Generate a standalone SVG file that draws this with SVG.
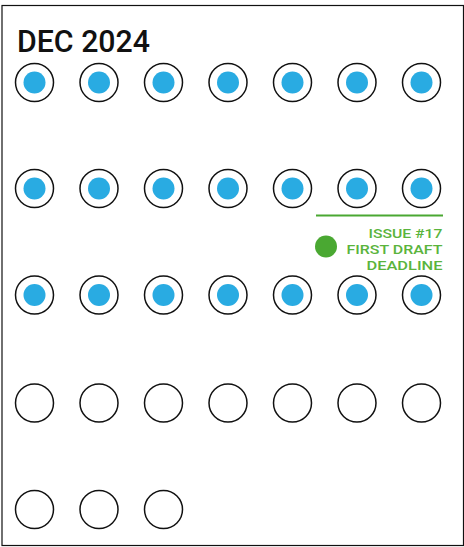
<svg xmlns="http://www.w3.org/2000/svg" width="464" height="547" viewBox="0 0 464 547">
<style>
.ring{fill:#fff;stroke:#111;stroke-width:1.5}
.dot{fill:#29abe2}
.lbl{font-family:Roboto,"Liberation Sans",sans-serif;font-weight:500;font-size:13.5px;fill:#5ab43c;text-anchor:end}
</style>
<defs>
<g id="full"><circle class="ring" r="19"/><circle class="dot" r="11"/></g>
<g id="empty"><circle class="ring" r="19"/></g>
</defs>
<rect x="2" y="5.5" width="461.5" height="540" fill="#fff" stroke="#111" stroke-width="1.2"/>
<text x="17" y="52" font-family="Roboto,'Liberation Sans',sans-serif" font-weight="500" font-size="31" textLength="133" lengthAdjust="spacingAndGlyphs" fill="#111">DEC 2024</text>
<g id="row1">
<use href="#full" x="34.5" y="82.5"/><use href="#full" x="99" y="82.5"/><use href="#full" x="163.5" y="82.5"/><use href="#full" x="228" y="82.5"/><use href="#full" x="292.5" y="82.5"/><use href="#full" x="357" y="82.5"/><use href="#full" x="421.5" y="82.5"/>
</g>
<g id="row2">
<use href="#full" x="34.5" y="188.5"/><use href="#full" x="99" y="188.5"/><use href="#full" x="163.5" y="188.5"/><use href="#full" x="228" y="188.5"/><use href="#full" x="292.5" y="188.5"/><use href="#full" x="357" y="188.5"/><use href="#full" x="421.5" y="188.5"/>
</g>
<g id="row3">
<use href="#full" x="34.5" y="295"/><use href="#full" x="99" y="295"/><use href="#full" x="163.5" y="295"/><use href="#full" x="228" y="295"/><use href="#full" x="292.5" y="295"/><use href="#full" x="357" y="295"/><use href="#full" x="421.5" y="295"/>
</g>
<g id="row4">
<use href="#empty" x="34.5" y="403"/><use href="#empty" x="99" y="403"/><use href="#empty" x="163.5" y="403"/><use href="#empty" x="228" y="403"/><use href="#empty" x="292.5" y="403"/><use href="#empty" x="357" y="403"/><use href="#empty" x="421.5" y="403"/>
</g>
<g id="row5">
<use href="#empty" x="34.5" y="509.5"/><use href="#empty" x="99" y="509.5"/><use href="#empty" x="163.5" y="509.5"/>
</g>
<g id="note">
<line x1="316" y1="215.5" x2="443" y2="215.5" stroke="#4aa832" stroke-width="2"/>
<circle cx="326" cy="246.5" r="11" fill="#4aa832"/>
<text class="lbl"><tspan x="442.5" y="237.5" textLength="74" lengthAdjust="spacingAndGlyphs">ISSUE #17</tspan><tspan x="442.5" y="253.5" textLength="96" lengthAdjust="spacingAndGlyphs">FIRST DRAFT</tspan><tspan x="442.5" y="269.5" textLength="76" lengthAdjust="spacingAndGlyphs">DEADLINE</tspan></text>
</g>
</svg>
